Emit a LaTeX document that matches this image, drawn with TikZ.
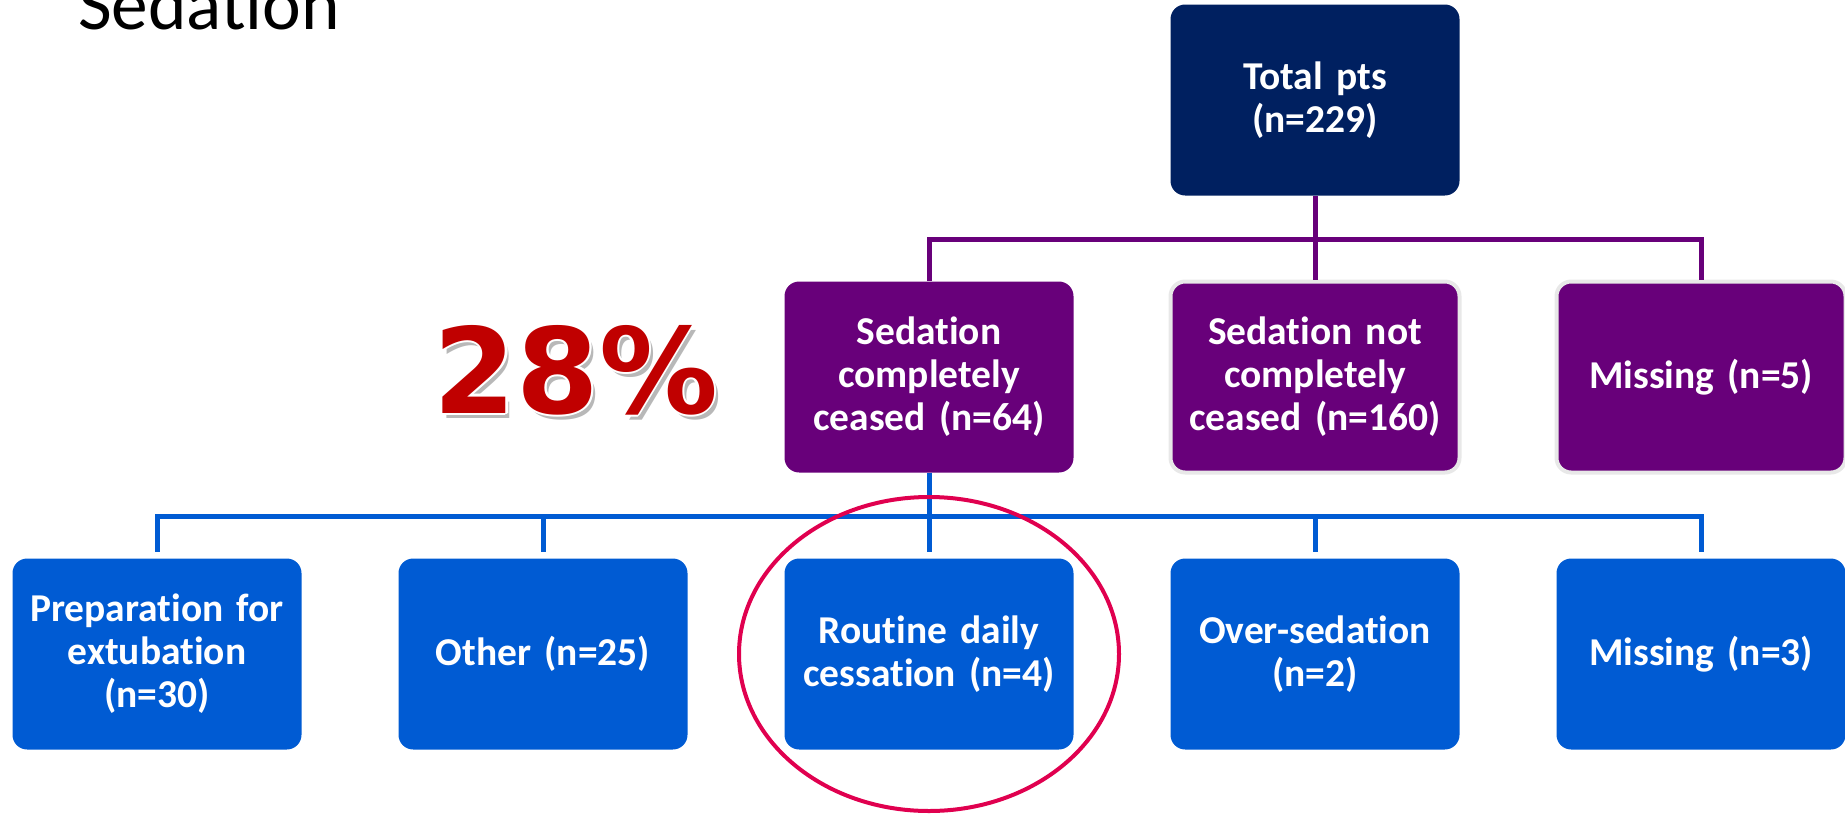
\documentclass[tikz,border=0pt]{standalone}
\usepackage{fontspec}
\setmainfont{Carlito}[RawFeature={-liga;-clig;-calt},WordSpace=0.6]
\newfontfamily\pctfont{DejaVu Sans}
\usetikzlibrary{positioning,shapes.geometric}
\definecolor{navy}{HTML}{002060}
\definecolor{plum}{HTML}{68007A}
\definecolor{royal}{HTML}{005BD3}
\definecolor{ring}{HTML}{E0004F}
\definecolor{pctred}{HTML}{C00000}
\tikzset{
  box/.style={rounded corners=11pt,minimum width=216.75pt,minimum height=143.25pt,
    text width=202pt,align=center,inner sep=0pt,text=white,
    font=\bfseries\fontsize{29.6pt}{32.25pt}\selectfont},
  topbox/.style={box,fill=navy},
  midbox/.style={box,fill=plum},
  lowbox/.style={box,fill=royal},
  rim/.style={draw=black!9,line width=3pt},
  plumline/.style={plum,line width=3.75pt},
  blueline/.style={royal,line width=3.75pt,shorten >=4.5pt},
  pcttext/.style={inner sep=0pt,font=\pctfont\bfseries\fontsize{89pt}{90pt}\selectfont}
}
\begin{document}
\begin{tikzpicture}[x=0.75pt,y=0.75pt,node distance=289.5pt]
    \useasboundingbox (0,0) rectangle (1845,-818);

    % title, cut by the top edge
    \node[anchor=base west,inner sep=0pt,font=\fontsize{55pt}{60pt}\selectfont] (title) at (78,-29) {Sedation};

    % top and middle row
    \node[topbox] (total) at (1315,-100) {Total pts\\(n=229)};
    \node[midbox,rim,node distance=207.75pt,below of=total] (notceased) {Sedation not\\completely\\ceased (n=160)};
    \node[midbox,left of=notceased] (ceased) {Sedation\\completely\\ceased (n=64)};
    \node[midbox,rim,right of=notceased] (missA) {Missing (n=5)};

    % bottom row
    \node[lowbox,node distance=207.75pt,below of=ceased] (routine) {Routine daily\\cessation (n=4)};
    \node[lowbox,left of=routine] (other) {Other (n=25)};
    \node[lowbox,left of=other] (prep) {Preparation for\\extubation\\(n=30)};
    \node[lowbox,right of=routine] (over) {Over-sedation\\(n=2)};
    \node[lowbox,right of=over] (missB) {Missing (n=3)};

    \draw[plumline] (total.south) -- (notceased.north);
    \draw[plumline] (ceased.north) -- ++(0,42) -| (missA.north);

    \foreach \n in {prep,other,routine,over,missB}
        \draw[blueline] (ceased.south) -- ++(0,-44) -| (\n.north);

    % 28% with shadow and white edge
    \coordinate (pctc) at (576,-370);
    \node[pcttext,text=black!28] (pctshade) at ([xshift=3pt,yshift=-4pt]pctc) {28\%};
    \foreach \a in {0,45,...,315}
        \node[pcttext,text=white] (pctrim\a) at ([shift={(\a:1.8pt)}]pctc) {28\%};
    \node[pcttext,text=pctred] (pct) at (pctc) {28\%};

    \node[ellipse,draw=ring,line width=3pt,minimum width=285pt,minimum height=235.5pt,inner sep=0pt] (halo) at (routine) {};
\end{tikzpicture}
\end{document}
